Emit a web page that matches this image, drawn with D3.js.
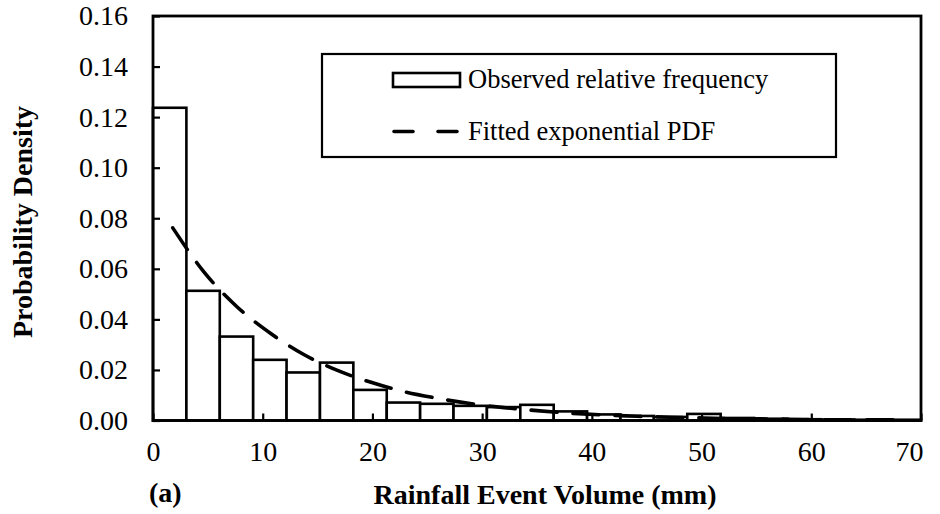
<!DOCTYPE html>
<html>
<head>
<meta charset="utf-8">
<script src="https://cdn.jsdelivr.net/npm/d3@7"></script>
<style>
  html, body { margin: 0; padding: 0; background: #fff; }
  svg { display: block; font-family: "Liberation Serif", "Times New Roman", serif; }
</style>
</head>
<body>
<svg id="chart" width="940" height="514"></svg>
<script>
// histogram bins: 23 equal bins over 0-70 mm
const xMax = 70;
const binCount = 23;
const observedDensity = [0.1237, 0.0513, 0.0332, 0.0240, 0.0190, 0.0229, 0.0121, 0.0071,
  0.0066, 0.0058, 0.0053, 0.0062, 0.0036, 0.0024, 0.0018, 0.0014, 0.0026, 0.0010,
  0.0007, 0.0005, 0.0004, 0.0003, 0.0003];

// fitted exponential pdf
const fittedX = [1.8, 4.6, 7.6, 10.7, 13.7, 16.7, 19.8, 22.8, 25.9, 28.9, 32.0, 35.0,
  38.0, 41.1, 44.1, 47.2, 50.2, 53.3, 56.3, 59.3, 62.4, 65.4, 68.5];
const fittedDensity = [0.0762, 0.0590, 0.0452, 0.0345, 0.0262, 0.0200, 0.0152, 0.0115,
  0.0088, 0.0067, 0.0051, 0.0039, 0.0029, 0.0022, 0.0017, 0.0013, 0.0010, 0.0007,
  0.0006, 0.0004, 0.0003, 0.0003, 0.0002];

const xTicks = [0, 10, 20, 30, 40, 50, 60, 70];
const yTicks = [0, 0.02, 0.04, 0.06, 0.08, 0.10, 0.12, 0.14, 0.16];

const xLabel = 'Rainfall Event Volume (mm)';
const yLabel = 'Probability Density';
const panelLabel = '(a)';
const legendItems = ['Observed relative frequency', 'Fitted exponential PDF'];

const margin = { top: 16, right: 19, bottom: 93.5, left: 153 };
const width = 940, height = 514;
const serif = '"Liberation Serif", "Times New Roman", serif';

const svg = d3.select('#chart');

const x = d3.scaleLinear([0, xMax], [margin.left, width - margin.right]);
const y = d3.scaleLinear([0, 0.16], [height - margin.bottom, margin.top]);

const bins = observedDensity.map((v, i) => ({
  x0: (i * xMax) / binCount,
  x1: ((i + 1) * xMax) / binCount,
  v
}));

// bars
svg.append('g')
  .selectAll('rect')
  .data(bins)
  .join('rect')
  .attr('x', (d) => x(d.x0))
  .attr('width', (d) => x(d.x1) - x(d.x0))
  .attr('y', (d) => y(d.v))
  .attr('height', (d) => y(0) - y(d.v))
  .attr('fill', '#fff')
  .attr('stroke', '#000')
  .attr('stroke-width', 2.6);

// fitted curve
const line = d3.line()
  .x((d, i) => x(fittedX[i]))
  .y((d) => y(d))
  .curve(d3.curveMonotoneX);

svg.append('path')
  .datum(fittedDensity)
  .attr('d', line)
  .attr('fill', 'none')
  .attr('stroke', '#000')
  .attr('stroke-width', 3.6)
  .attr('stroke-linecap', 'round')
  .attr('stroke-dasharray', '26,16');

// axes, ticks pointing inwards
const yAxis = d3.axisLeft(y)
  .tickValues(yTicks)
  .tickFormat(d3.format('.2f'))
  .tickSize(-7)
  .tickPadding(25);

const xAxis = d3.axisBottom(x)
  .tickValues(xTicks)
  .tickFormat(d3.format('d'))
  .tickSize(-7)
  .tickPadding(21);

svg.append('g')
  .attr('transform', `translate(${margin.left},0)`)
  .call(yAxis)
  .call((g) => g.select('.domain').remove())
  .call((g) => g.selectAll('.tick line').attr('stroke', '#000').attr('stroke-width', 2.2))
  .call((g) => g.selectAll('.tick text')
    .attr('fill', '#000')
    .attr('font-family', serif)
    .attr('font-size', 28));

svg.append('g')
  .attr('transform', `translate(0,${height - margin.bottom})`)
  .call(xAxis)
  .call((g) => g.select('.domain').remove())
  .call((g) => g.selectAll('.tick line').attr('stroke', '#000').attr('stroke-width', 2.2))
  .call((g) => g.selectAll('.tick text')
    .attr('fill', '#000')
    .attr('font-family', serif)
    .attr('font-size', 28))
  // last label is kept inside the chart, as in the original
  .call((g) => g.selectAll('.tick text').filter((d) => d === xMax)
    .attr('text-anchor', 'end')
    .attr('x', 2));

// plot frame
svg.append('rect')
  .attr('x', x(0))
  .attr('y', y(0.16))
  .attr('width', x(xMax) - x(0))
  .attr('height', y(0) - y(0.16))
  .attr('fill', 'none')
  .attr('stroke', '#000')
  .attr('stroke-width', 2.8);

// legend
const legend = svg.append('g').attr('transform', 'translate(322,54)');
legend.append('rect')
  .attr('width', 514)
  .attr('height', 103)
  .attr('fill', '#fff')
  .attr('stroke', '#000')
  .attr('stroke-width', 2.2);
legend.append('rect')
  .attr('x', 71)
  .attr('y', 19)
  .attr('width', 67)
  .attr('height', 14)
  .attr('fill', '#fff')
  .attr('stroke', '#000')
  .attr('stroke-width', 2.6);
legend.append('line')
  .attr('x1', 72)
  .attr('x2', 138)
  .attr('y1', 77.5)
  .attr('y2', 77.5)
  .attr('stroke', '#000')
  .attr('stroke-width', 3.6)
  .attr('stroke-linecap', 'round')
  .attr('stroke-dasharray', '19,25');
legend.selectAll('text')
  .data(legendItems)
  .join('text')
  .attr('x', 146)
  .attr('y', (d, i) => 34 + i * 52)
  .attr('font-size', 26.5)
  .attr('fill', '#000')
  .text((d) => d);

// axis titles
svg.append('text')
  .attr('x', 545)
  .attr('y', 504)
  .attr('text-anchor', 'middle')
  .attr('font-size', 28)
  .attr('font-weight', 'bold')
  .text(xLabel);

svg.append('text')
  .attr('x', 149)
  .attr('y', 502)
  .attr('font-size', 28)
  .attr('font-weight', 'bold')
  .text(panelLabel);

svg.append('text')
  .attr('transform', 'translate(32,222) rotate(-90)')
  .attr('text-anchor', 'middle')
  .attr('font-size', 28)
  .attr('font-weight', 'bold')
  .text(yLabel);
</script>
</body>
</html>
